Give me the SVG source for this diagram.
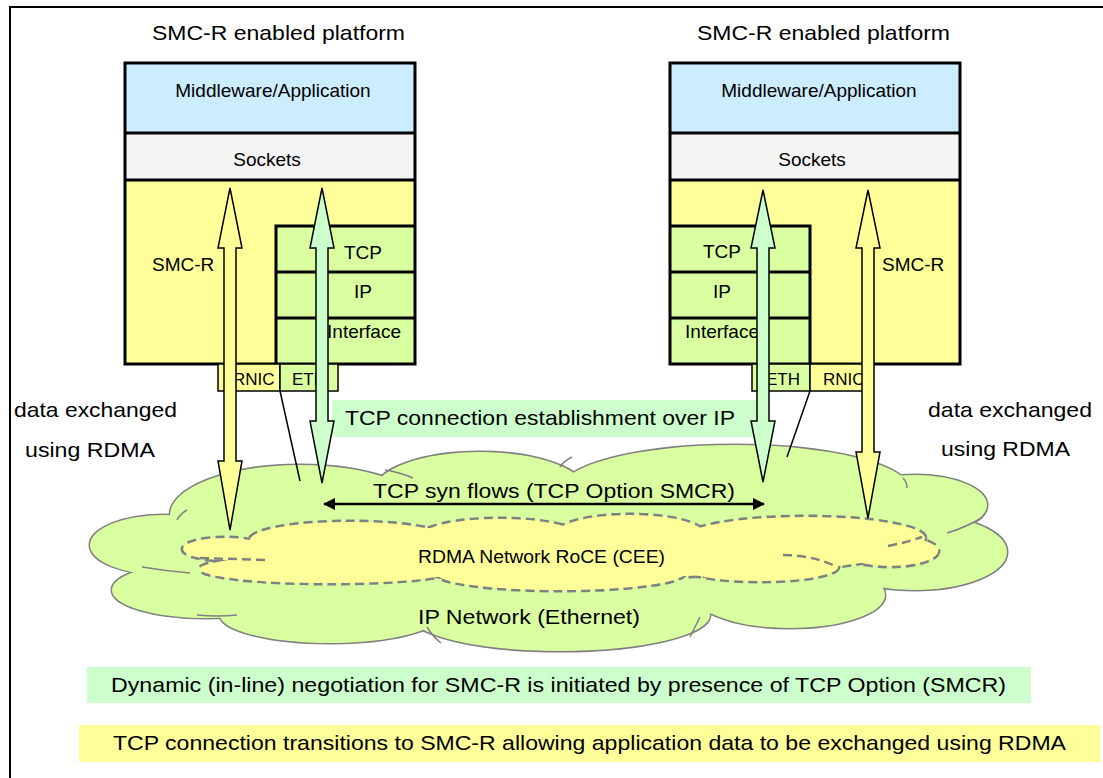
<svg xmlns="http://www.w3.org/2000/svg" xmlns:xlink="http://www.w3.org/1999/xlink" width="1103" height="778" viewBox="0 0 1103 778">
<style>
text{font-family:"Liberation Sans",Arial,sans-serif;fill:#000}
.t21{font-size:21px}
.t19{font-size:19px}
.t17{font-size:17px}
.t18{font-size:18px}
.mid{text-anchor:middle}
.box{stroke:#000;stroke-width:3}
.thin{stroke:#000;stroke-width:1.5}
.blue{fill:#CCECFF}
.grey{fill:#F4F4F4}
.yel{fill:#FFFF99}
.grn{fill:#D9FFA0}
.mint{fill:#CCFFCC}
.arrow{stroke:#000;stroke-width:1.5;stroke-linejoin:miter}
.cloudStroke{fill:#D9FFA0;stroke:#808080;stroke-width:3}
.cloudFill{fill:#D9FFA0;stroke:none}
.innerStroke{fill:#FFFF99;stroke:#808080;stroke-width:5;stroke-dasharray:9 5}
.innerFill{fill:#FFFF99;stroke:none}
.tail{fill:none;stroke:#808080;stroke-width:1.5}
.itail{fill:none;stroke:#808080;stroke-width:2.5;stroke-dasharray:9 5}
</style>
<defs>
<marker id="ah" viewBox="0 0 12 12" refX="11" refY="6" markerWidth="12" markerHeight="12" markerUnits="userSpaceOnUse" orient="auto-start-reverse">
<path d="M0,0 L12,6 L0,12 Z" fill="#000"/>
</marker>
<g id="outerLobes">
<ellipse cx="165" cy="545" rx="75" ry="30"/>
<ellipse cx="205" cy="590" rx="93" ry="28"/>
<ellipse cx="330" cy="615" rx="110" ry="28"/>
<ellipse cx="560" cy="615" rx="150" ry="36"/>
<ellipse cx="790" cy="595" rx="95" ry="33"/>
<ellipse cx="915" cy="552" rx="92" ry="38"/>
<ellipse cx="915" cy="505" rx="72" ry="30"/>
<ellipse cx="735" cy="490" rx="175" ry="45"/>
<ellipse cx="480" cy="490" rx="105" ry="38"/>
<ellipse cx="300" cy="515" rx="130" ry="50"/>
<ellipse cx="550" cy="550" rx="380" ry="70"/>
</g>
<g id="innerLobes">
<ellipse cx="225" cy="549" rx="42" ry="11"/>
<ellipse cx="330" cy="569" rx="130" ry="14"/>
<ellipse cx="560" cy="573" rx="125" ry="17"/>
<ellipse cx="760" cy="567" rx="78" ry="14"/>
<ellipse cx="890" cy="551" rx="48" ry="15"/>
<ellipse cx="805" cy="538" rx="120" ry="21"/>
<ellipse cx="630" cy="535" rx="75" ry="20"/>
<ellipse cx="500" cy="537" rx="80" ry="18"/>
<ellipse cx="350" cy="540" rx="100" ry="18"/>
<ellipse cx="560" cy="552" rx="330" ry="26"/>
</g>
</defs>

<rect id="frame" x="10" y="7" width="1200" height="900" fill="#fff" stroke="#000" stroke-width="2"/>

<g id="ip-network">
<use xlink:href="#outerLobes" class="cloudStroke"/>
<use xlink:href="#outerLobes" class="cloudFill"/>
<path class="tail" d="M177,520 q3,-6 10,-10"/>
<path class="tail" d="M413,478 q-14,-6 -28,-8"/>
<path class="tail" d="M560,467 q4,-6 12,-10"/>
<path class="tail" d="M903,478 q4,4 4,10"/>
<path class="tail" d="M947,533 q20,-6 36,-16"/>
<path class="tail" d="M700,617 q-6,12 -10,20"/>
<path class="tail" d="M427,627 q6,10 14,16"/>
<path class="tail" d="M237,615 q-20,2 -40,0"/>
<path class="tail" d="M190,573 q-24,-2 -48,-6"/>
<text class="t21" x="418" y="624" textLength="222" lengthAdjust="spacingAndGlyphs">IP Network (Ethernet)</text>
</g>

<g id="rdma-network">
<use xlink:href="#innerLobes" class="innerStroke"/>
<use xlink:href="#innerLobes" class="innerFill"/>
<path class="itail" d="M200,558 L267,560"/>
<path class="itail" d="M783,555 q30,0 54,12"/>
<path class="itail" d="M888,546 q20,-4 34,-9"/>
<text class="t18" x="418" y="563" textLength="247" lengthAdjust="spacingAndGlyphs">RDMA Network RoCE (CEE)</text>
</g>

<g id="platform-left">
<text class="t21" x="152" y="40" textLength="253" lengthAdjust="spacingAndGlyphs">SMC-R enabled platform</text>
<rect class="yel" x="125" y="180" width="290" height="184"/>
<rect class="grn" x="276" y="226" width="139" height="138"/>
<rect class="blue" x="125" y="63" width="290" height="70"/>
<rect class="grey" x="125" y="133" width="290" height="47"/>
<g fill="none" class="box">
<rect x="125" y="63" width="290" height="301"/>
<line x1="125" y1="133" x2="415" y2="133"/>
<line x1="125" y1="180" x2="415" y2="180"/>
<path d="M415,226 H276 V364"/>
<line x1="276" y1="272" x2="415" y2="272"/>
<line x1="276" y1="318" x2="415" y2="318"/>
</g>
<text class="t19 mid" x="273" y="97">Middleware/Application</text>
<text class="t19 mid" x="267" y="166">Sockets</text>
<text class="t19" x="152" y="271">SMC-R</text>
<text class="t19 mid" x="363" y="259">TCP</text>
<text class="t19 mid" x="363" y="298">IP</text>
<text class="t19 mid" x="364" y="338">Interface</text>
<rect class="yel thin" x="218" y="364" width="62" height="27"/>
<rect class="grn thin" x="280" y="364" width="58" height="27"/>
<text class="t17" x="233" y="385">RNIC</text>
<text class="t17" x="292" y="385">ETH</text>
</g>

<g id="platform-right">
<text class="t21" x="697" y="40" textLength="253" lengthAdjust="spacingAndGlyphs">SMC-R enabled platform</text>
<rect class="yel" x="670" y="180" width="290" height="184"/>
<rect class="grn" x="670" y="226" width="140" height="138"/>
<rect class="blue" x="670" y="63" width="290" height="70"/>
<rect class="grey" x="670" y="133" width="290" height="47"/>
<g fill="none" class="box">
<rect x="670" y="63" width="290" height="301"/>
<line x1="670" y1="133" x2="960" y2="133"/>
<line x1="670" y1="180" x2="960" y2="180"/>
<path d="M670,226 H810 V364"/>
<line x1="670" y1="272" x2="810" y2="272"/>
<line x1="670" y1="318" x2="810" y2="318"/>
</g>
<text class="t19 mid" x="819" y="97">Middleware/Application</text>
<text class="t19 mid" x="812" y="166">Sockets</text>
<text class="t19" x="882" y="271">SMC-R</text>
<text class="t19 mid" x="722" y="258">TCP</text>
<text class="t19 mid" x="722" y="298">IP</text>
<text class="t19 mid" x="722" y="338">Interface</text>
<rect class="grn thin" x="752" y="364" width="58" height="27"/>
<rect class="yel thin" x="810" y="364" width="58" height="27"/>
<text class="t17" x="766" y="385">ETH</text>
<text class="t17" x="823" y="385">RNIC</text>
</g>

<g id="labels">
<text class="t21" x="14" y="417" textLength="163" lengthAdjust="spacingAndGlyphs">data exchanged</text>
<text class="t21" x="25" y="457" textLength="130" lengthAdjust="spacingAndGlyphs">using RDMA</text>
<text class="t21" x="928" y="417" textLength="164" lengthAdjust="spacingAndGlyphs">data exchanged</text>
<text class="t21" x="941" y="456" textLength="129" lengthAdjust="spacingAndGlyphs">using RDMA</text>
</g>

<g id="tcp-establish-label">
<rect class="mint" x="332" y="400" width="425" height="37"/>
<text class="t21" x="345" y="425" textLength="390" lengthAdjust="spacingAndGlyphs">TCP connection establishment over IP</text>
</g>

<g id="connectors">
<line class="thin" x1="280" y1="391" x2="300" y2="481"/>
<line class="thin" x1="810" y1="391" x2="787" y2="457"/>
<path class="arrow yel" d="M230,188 L242,248 L236,248 L236,461 L242,461 L230,530 L218,461 L224,461 L224,248 L218,248 Z"/>
<path class="arrow mint" d="M322,188 L334,248 L328,248 L328,421 L334,421 L322,483 L310,421 L316,421 L316,248 L310,248 Z"/>
<path class="arrow mint" d="M763,190 L775,248 L769,248 L769,421 L775,421 L763,482 L751,421 L757,421 L757,248 L751,248 Z"/>
<path class="arrow yel" d="M868,190 L880,248 L874,248 L874,452 L880,452 L868,518 L856,452 L862,452 L862,248 L856,248 Z"/>
<line x1="324" y1="504" x2="764" y2="504" stroke="#000" stroke-width="2.5" marker-start="url(#ah)" marker-end="url(#ah)"/>
</g>

<g id="syn-label">
<text class="t21" x="373" y="498" textLength="362" lengthAdjust="spacingAndGlyphs">TCP syn flows (TCP Option SMCR)</text>
</g>

<g id="note-negotiation">
<rect class="mint" x="87" y="667" width="944" height="36"/>
<text class="t21" x="111" y="692" textLength="895" lengthAdjust="spacingAndGlyphs">Dynamic (in-line) negotiation for SMC-R is initiated by presence of TCP Option (SMCR)</text>
</g>

<g id="note-transition">
<rect class="yel" x="79" y="725" width="1021" height="37"/>
<text class="t21" x="113" y="750" textLength="953" lengthAdjust="spacingAndGlyphs">TCP connection transitions to SMC-R allowing application data to be exchanged using RDMA</text>
</g>
</svg>
